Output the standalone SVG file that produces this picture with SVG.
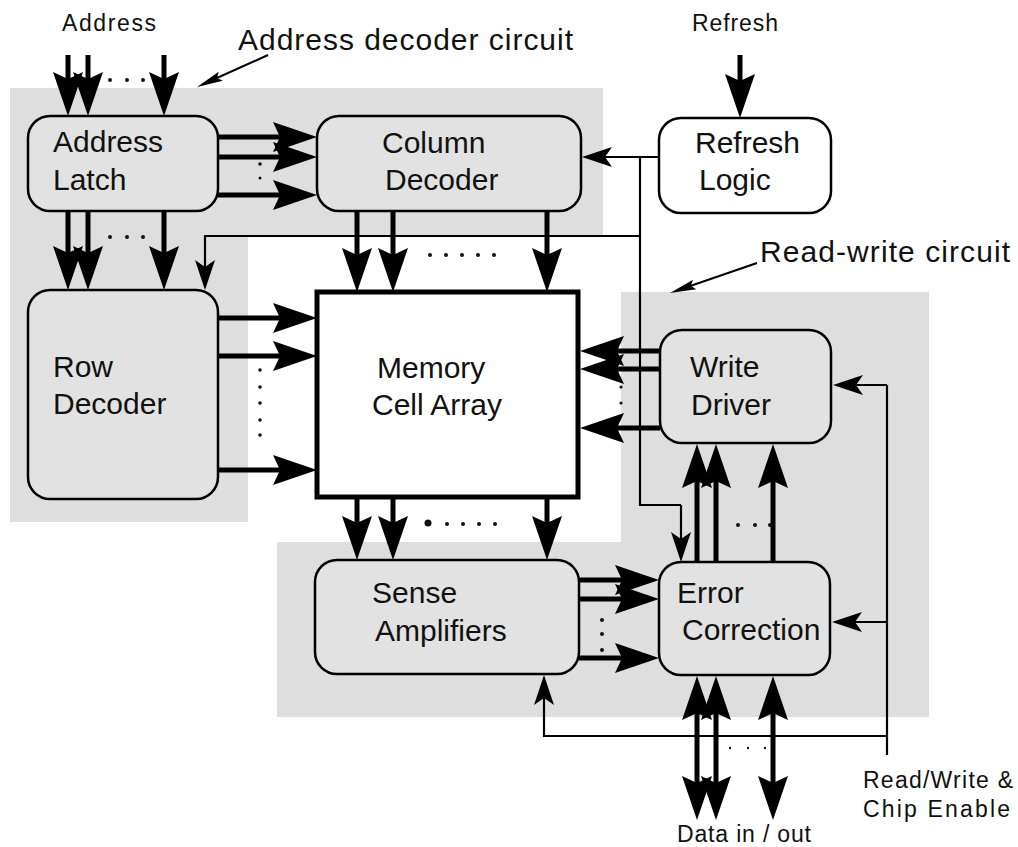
<svg xmlns="http://www.w3.org/2000/svg" width="1018" height="847" viewBox="0 0 1018 847">
<style>
.region{fill:#dedede;stroke:none}
.node{fill:#e2e2e2;stroke:#000;stroke-width:2.5}
.white{fill:#fff}
.lbl{font-family:"Liberation Sans",Arial,sans-serif;font-size:30px;fill:#111}
.sm{font-family:"Liberation Sans",Arial,sans-serif;font-size:23px;fill:#111}
.thick{stroke:#000;stroke-width:5;fill:none;marker-end:url(#big)}
.dbl{stroke:#000;stroke-width:5;fill:none;marker-end:url(#big);marker-start:url(#big)}
.thin{stroke:#000;stroke-width:2.2;fill:none}
.tarr{marker-end:url(#small)}
.ann{stroke:#000;stroke-width:2;fill:none;marker-end:url(#annh)}
.dot{fill:#111}
</style>
<defs>
<marker id="big" markerUnits="userSpaceOnUse" markerWidth="48" markerHeight="34" viewBox="0 -17 48 34" refX="22" refY="0" orient="auto-start-reverse"><path d="M0,-15 L44,0 L0,15 L7,0 Z" fill="#000"/></marker>
<marker id="small" markerUnits="userSpaceOnUse" markerWidth="34" markerHeight="24" viewBox="0 -12 34 24" refX="22" refY="0" orient="auto"><path d="M0,-10 L30,0 L0,10 L7,0 Z" fill="#000"/></marker>
<marker id="annh" markerUnits="userSpaceOnUse" markerWidth="30" markerHeight="14" viewBox="0 -7 30 14" refX="20" refY="0" orient="auto"><path d="M0,-5 L26,0 L0,5 L4,0 Z" fill="#000"/></marker>
</defs>
<rect width="1018" height="847" fill="#fff"/>
<g id="regions">
<path class="region" d="M10,88 H603 V235 H248 V522 H10 Z"/>
<path class="region" d="M621,292 H929 V717 H277 V542 H621 Z"/>
</g>
<g id="address-latch"><rect class="node" x="28" y="116" width="190" height="95" rx="22"/><text class="lbl" x="53" y="152">Address</text><text class="lbl" x="53" y="190">Latch</text></g>
<g id="column-decoder"><rect class="node" x="317" y="116" width="264" height="95" rx="22"/><text class="lbl" x="382" y="153">Column</text><text class="lbl" x="385" y="190">Decoder</text></g>
<g id="refresh-logic"><rect class="node white" x="659" y="118" width="172" height="95" rx="22"/><text class="lbl" x="695" y="153">Refresh</text><text class="lbl" x="699" y="190">Logic</text></g>
<g id="row-decoder"><rect class="node" x="28" y="290" width="190" height="209" rx="22"/><text class="lbl" x="53" y="377">Row</text><text class="lbl" x="53" y="414">Decoder</text></g>
<g id="memory-cell-array"><rect x="317" y="292" width="261" height="205" fill="#fff" stroke="#000" stroke-width="5"/><text class="lbl" x="377" y="378">Memory</text><text class="lbl" x="372" y="415">Cell Array</text></g>
<g id="write-driver"><rect class="node" x="660" y="330" width="171" height="113" rx="22"/><text class="lbl" x="690" y="377">Write</text><text class="lbl" x="691" y="415">Driver</text></g>
<g id="sense-amplifiers"><rect class="node" x="315" y="560" width="264" height="114" rx="22"/><text class="lbl" x="372" y="603">Sense</text><text class="lbl" x="375" y="641">Amplifiers</text></g>
<g id="error-correction"><rect class="node" x="659" y="562" width="171" height="113" rx="22"/><text class="lbl" x="677" y="603">Error</text><text class="lbl" x="682" y="640">Correction</text></g>
<g id="connectors">
<path class="thick" d="M68,55 V94"/><path class="thick" d="M88,55 V94"/><path class="thick" d="M164,55 V94"/>
<path class="thick" d="M68,211 V268"/><path class="thick" d="M88,211 V268"/><path class="thick" d="M164,211 V268"/>
<path class="thick" d="M218,137 H295"/><path class="thick" d="M218,157 H295"/><path class="thick" d="M218,195 H295"/>
<path class="thick" d="M357,211 V270"/><path class="thick" d="M393,211 V270"/><path class="thick" d="M547,211 V270"/>
<path class="thick" d="M740,55 V96"/>
<path class="thick" d="M218,318 H295"/><path class="thick" d="M218,356 H295"/><path class="thick" d="M218,470 H295"/>
<path class="thick" d="M660,351 H602"/><path class="thick" d="M660,369 H602"/><path class="thick" d="M660,428 H602"/>
<path class="thick" d="M357,497 V538"/><path class="thick" d="M393,497 V538"/><path class="thick" d="M547,497 V538"/>
<path class="thick" d="M579,580 H637"/><path class="thick" d="M579,599 H637"/><path class="thick" d="M579,658 H637"/>
<path class="thick" d="M697,562 V466"/><path class="thick" d="M716,562 V466"/><path class="thick" d="M773,562 V466"/>
<path class="dbl" d="M697,698 V798"/><path class="dbl" d="M716,698 V798"/><path class="dbl" d="M773,698 V798"/>
<path class="thin tarr" d="M659,157 H590"/>
<path class="thin" d="M640,157 V505 H681"/><path class="thin tarr" d="M681,505 V554"/>
<path class="thin tarr" d="M640,236 H205 V282"/>
<path class="thin" d="M887,385 V755"/>
<path class="thin tarr" d="M887,385 H841"/>
<path class="thin tarr" d="M887,622 H840"/>
<path class="thin tarr" d="M887,736 H544 V683"/>
<path class="ann" d="M268,55 L202.5,84.5"/>
<path class="ann" d="M757,263 L675.7,291"/>
</g>
<g id="dots">
<circle class="dot" cx="110" cy="80" r="2"/><circle class="dot" cx="127" cy="80" r="2"/><circle class="dot" cx="143" cy="80" r="2"/>
<circle class="dot" cx="110" cy="237" r="2"/><circle class="dot" cx="127" cy="237" r="2"/><circle class="dot" cx="143" cy="237" r="2"/>
<circle class="dot" cx="260" cy="164" r="1.8"/><circle class="dot" cx="260" cy="178" r="1.5"/>
<circle class="dot" cx="430" cy="255" r="2"/><circle class="dot" cx="446" cy="255" r="2"/><circle class="dot" cx="462" cy="255" r="2"/><circle class="dot" cx="478" cy="255" r="2"/><circle class="dot" cx="494" cy="255" r="2"/>
<circle class="dot" cx="260" cy="370" r="1.8"/><circle class="dot" cx="260" cy="387" r="1.8"/><circle class="dot" cx="260" cy="403" r="1.8"/><circle class="dot" cx="260" cy="420" r="1.8"/><circle class="dot" cx="260" cy="435" r="1.8"/>
<circle class="dot" cx="621" cy="387" r="1.6"/><circle class="dot" cx="621" cy="403" r="1.6"/>
<circle class="dot" cx="428" cy="523" r="3.5"/><circle class="dot" cx="447" cy="524" r="2"/><circle class="dot" cx="463" cy="524" r="2"/><circle class="dot" cx="479" cy="524" r="2"/><circle class="dot" cx="495" cy="524" r="2"/>
<circle class="dot" cx="602" cy="620" r="2"/><circle class="dot" cx="602" cy="634" r="2"/><circle class="dot" cx="602" cy="650" r="2"/>
<circle class="dot" cx="738" cy="525" r="2"/><circle class="dot" cx="755" cy="525" r="2"/><circle class="dot" cx="770" cy="525" r="2"/>
<circle class="dot" cx="730" cy="748" r="1.2"/><circle class="dot" cx="748" cy="748" r="1.2"/><circle class="dot" cx="765" cy="748" r="1.2"/>
</g>
<g id="labels">
<text class="sm" x="62" y="31" textLength="94">Address</text>
<text class="sm" x="692" y="31" textLength="86">Refresh</text>
<text class="lbl" x="238" y="50" textLength="335">Address decoder circuit</text>
<text class="lbl" x="760" y="262" textLength="250">Read-write circuit</text>
<text class="sm" x="863" y="788" textLength="150">Read/Write &amp;</text>
<text class="sm" x="863" y="817" textLength="147">Chip Enable</text>
<text class="sm" x="677" y="842" textLength="134">Data in / out</text>
</g>
</svg>
